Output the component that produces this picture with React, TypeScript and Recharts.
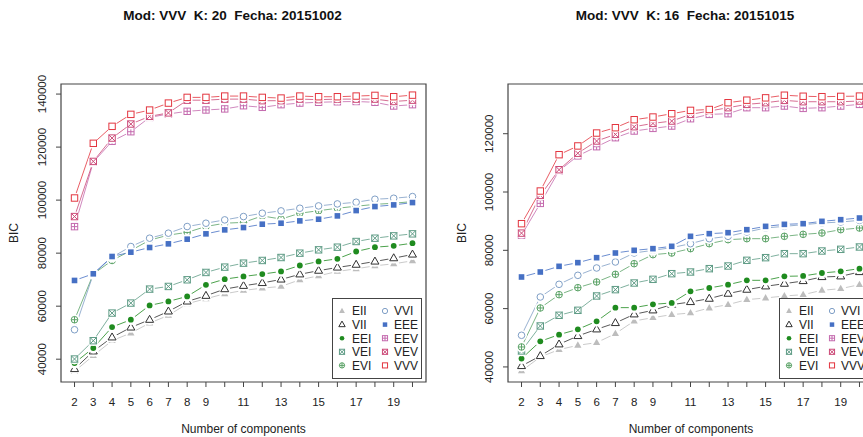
import React from 'react';
import { LineChart, Line, XAxis, YAxis, ReferenceArea, Legend } from 'recharts';

// ---------- data ----------
const components = [2, 3, 4, 5, 6, 7, 8, 9, 10, 11, 12, 13, 14, 15, 16, 17, 18, 19, 20];
const xLabelShown = [2, 3, 4, 5, 6, 7, 8, 9, 11, 13, 15, 17, 19];
const leftYTicks = [40000, 60000, 80000, 100000, 120000, 140000];
const rightYTicks = [40000, 60000, 80000, 100000, 120000];
const models = ['EII', 'VII', 'EEI', 'VEI', 'EVI', 'VVI', 'EEE', 'EEV', 'VEV', 'VVV'];
const leftTitle = 'Mod: VVV  K: 20  Fecha: 20151002';
const rightTitle = 'Mod: VVV  K: 16  Fecha: 20151015';

// left panel (20151002)
const L_EII = [35430, 41330, 46980, 49870, 53630, 56520, 60920, 62800, 64680, 65940, 66810, 67440, 69950, 71460, 73090, 74100, 75230, 75980, 77110];
const L_VII = [36310, 42970, 48240, 51980, 54890, 58030, 61790, 63930, 66440, 67690, 68760, 70080, 72020, 73400, 74600, 75660, 76860, 78110, 79500];
const L_EEI = [38570, 44220, 52130, 54890, 60290, 61790, 63680, 68070, 70200, 71210, 72090, 73090, 75350, 76860, 77860, 80620, 82260, 82760, 83760];
const L_VEI = [40070, 46980, 57400, 61170, 66440, 67440, 69950, 72720, 74730, 76230, 77240, 78360, 80000, 81250, 82250, 84390, 85640, 86520, 87280];
const L_EVI = [54890, 72090, 77240, 81000, 84900, 86800, 87850, 90040, 91290, 91600, 94050, 92850, 95060, 96000, 96940, 97700, 98400, 98830, 99450];
const L_VVI = [51120, 72090, 78490, 82500, 85640, 87530, 90040, 91290, 92550, 93800, 95060, 95940, 96940, 97820, 98570, 99200, 100330, 100710, 101340];
const L_EEE = [69700, 72210, 78740, 80370, 82130, 83510, 85270, 87280, 88780, 89660, 90920, 91290, 92170, 92800, 94050, 96060, 97570, 98200, 99080];
const L_EEV = [90000, 114300, 122200, 125800, 131200, 132500, 133500, 134000, 134400, 135600, 135000, 136000, 136600, 136900, 137100, 137200, 136900, 135500, 136000];
const L_VEV = [93800, 114600, 123400, 128700, 131600, 132900, 137700, 137700, 138100, 138100, 137500, 137500, 138100, 137900, 138100, 138100, 138100, 137200, 137700];
const L_VVV = [100800, 121430, 127830, 132350, 133970, 136600, 138750, 138750, 139250, 139250, 138750, 138500, 139250, 139000, 139000, 139250, 139500, 139000, 139600];

// right panel (20151015)
const R_EII = [38620, 43420, 45930, 47420, 48330, 51420, 55760, 56910, 57940, 58510, 60220, 61370, 63080, 63650, 64340, 64790, 66280, 66850, 68220];
const R_VII = [40330, 43760, 47760, 50620, 52900, 55080, 58050, 59420, 61370, 62280, 63420, 65140, 66510, 67650, 68560, 69480, 70850, 71080, 72560];
const R_EEI = [42850, 48790, 51080, 52900, 55650, 60340, 60340, 61480, 61940, 65940, 67080, 68220, 69710, 69710, 71080, 71200, 72220, 72790, 73710];
const R_VEI = [45480, 54050, 57710, 59420, 64340, 66510, 68790, 70050, 71990, 72560, 73710, 74620, 76570, 77480, 78850, 78850, 79770, 80340, 81140];
const R_EVI = [46850, 60220, 64790, 67190, 69140, 71770, 75420, 78510, 79080, 80570, 82280, 83650, 83990, 83990, 84800, 85480, 85940, 87080, 87650];
const R_VVI = [50850, 63990, 68340, 71420, 73940, 75990, 79080, 80000, 80910, 82280, 84000, 84800, 86280, 87650, 88220, 88800, 89370, 89710, 90280];
const R_EEE = [70850, 72560, 74510, 75770, 77480, 79080, 80000, 80570, 81370, 84800, 85710, 86050, 87080, 88220, 88910, 89140, 89940, 90510, 91080];
const R_EEV = [85200, 96100, 107300, 112400, 115540, 118630, 120920, 121830, 122630, 125140, 126630, 126860, 128920, 128920, 129490, 128690, 128920, 129490, 130060];
const R_VEV = [85900, 98850, 107650, 113300, 117490, 119770, 122400, 123540, 124340, 126630, 127770, 128920, 130060, 130630, 131430, 130970, 130970, 130970, 131200];
const R_VVV = [89140, 100340, 112800, 115800, 120230, 122060, 124800, 125720, 126860, 128000, 128300, 130630, 131500, 132300, 133200, 132850, 132700, 132800, 132900];

const leftSeries: Record<string, number[]> = {
  EII: L_EII, VII: L_VII, EEI: L_EEI, VEI: L_VEI, EVI: L_EVI,
  VVI: L_VVI, EEE: L_EEE, EEV: L_EEV, VEV: L_VEV, VVV: L_VVV,
};
const rightSeries: Record<string, number[]> = {
  EII: R_EII, VII: R_VII, EEI: R_EEI, VEI: R_VEI, EVI: R_EVI,
  VVI: R_VVI, EEE: R_EEE, EEV: R_EEV, VEV: R_VEV, VVV: R_VVV,
};

// ---------- styles ----------
const modelColor: Record<string, string> = {
  EII: '#bdbdbd', VII: '#303030', EEI: '#1f8b1f', VEI: '#5f9c86', EVI: '#5aa266',
  VVI: '#7f9fc6', EEE: '#4670c4', EEV: '#c46aae', VEV: '#cc4a78', VVV: '#e3353f',
};
const modelShape: Record<string, string> = {
  EII: 'triFilled', VII: 'triOpen', EEI: 'dotFilled', VEI: 'sqX', EVI: 'circPlus',
  VVI: 'circOpen', EEE: 'sqFilled', EEV: 'sqPlus', VEV: 'sqX', VVV: 'sqOpen',
};

const FONT = '"Liberation Sans", Arial, Helvetica, sans-serif';

function buildRows(series: Record<string, number[]>) {
  return components.map((k, i) => {
    const row: Record<string, number> = { k };
    models.forEach((m) => { row[m] = series[m][i]; });
    return row;
  });
}

function Marker({ shape, color, cx, cy, s = 1 }: any) {
  const sw = 1;
  switch (shape) {
    case 'triFilled': {
      const w = 3.6 * s, t = 4 * s, b = 2.4 * s;
      return <polygon points={`${cx},${cy - t} ${cx - w},${cy + b} ${cx + w},${cy + b}`} fill={color} />;
    }
    case 'triOpen': {
      const w = 4 * s, t = 4.4 * s, b = 2.6 * s;
      return <polygon points={`${cx},${cy - t} ${cx - w},${cy + b} ${cx + w},${cy + b}`} fill="none" stroke={color} strokeWidth={sw} />;
    }
    case 'dotFilled':
      return <circle cx={cx} cy={cy} r={2.9 * s} fill={color} />;
    case 'circOpen':
      return <circle cx={cx} cy={cy} r={3.3 * s} fill="none" stroke={color} strokeWidth={sw} />;
    case 'circPlus': {
      const r = 3.3 * s;
      return (
        <g>
          <circle cx={cx} cy={cy} r={r} fill="none" stroke={color} strokeWidth={sw} />
          <line x1={cx - r} y1={cy} x2={cx + r} y2={cy} stroke={color} strokeWidth={sw} />
          <line x1={cx} y1={cy - r} x2={cx} y2={cy + r} stroke={color} strokeWidth={sw} />
        </g>
      );
    }
    case 'sqFilled': {
      const h = 2.8 * s;
      return <rect x={cx - h} y={cy - h} width={2 * h} height={2 * h} fill={color} />;
    }
    case 'sqOpen': {
      const h = 3.2 * s;
      return <rect x={cx - h} y={cy - h} width={2 * h} height={2 * h} fill="none" stroke={color} strokeWidth={sw} />;
    }
    case 'sqX': {
      const h = 3.2 * s;
      return (
        <g>
          <rect x={cx - h} y={cy - h} width={2 * h} height={2 * h} fill="none" stroke={color} strokeWidth={sw} />
          <line x1={cx - h} y1={cy - h} x2={cx + h} y2={cy + h} stroke={color} strokeWidth={sw} />
          <line x1={cx - h} y1={cy + h} x2={cx + h} y2={cy - h} stroke={color} strokeWidth={sw} />
        </g>
      );
    }
    case 'sqPlus': {
      const h = 3.2 * s;
      return (
        <g>
          <rect x={cx - h} y={cy - h} width={2 * h} height={2 * h} fill="none" stroke={color} strokeWidth={sw} />
          <line x1={cx - h} y1={cy} x2={cx + h} y2={cy} stroke={color} strokeWidth={sw} />
          <line x1={cx} y1={cy - h} x2={cx} y2={cy + h} stroke={color} strokeWidth={sw} />
        </g>
      );
    }
    default:
      return null;
  }
}

function makeDot(model: string) {
  return (props: any) => {
    const { cx, cy, index } = props;
    if (cx == null || cy == null) return <g key={`${model}-${index}`} />;
    return (
      <g key={`${model}-${index}`}>
        <circle cx={cx} cy={cy} r={5.4} fill="#ffffff" />
        <Marker shape={modelShape[model]} color={modelColor[model]} cx={cx} cy={cy} />
      </g>
    );
  };
}

const XTick = (props: any) => {
  const { x, y, payload } = props;
  const v = payload.value;
  if (!xLabelShown.includes(v)) return <g />;
  return (
    <text x={x} y={y + 14.5} dy="0.35em" textAnchor="middle" fontSize={11.5} fill="#222" fontFamily={FONT}>
      {v}
    </text>
  );
};

const YTick = (props: any) => {
  const { x, y, payload } = props;
  const cx = x - 14.5;
  return (
    <text x={cx} y={y} dy="0.35em" textAnchor="middle" fontSize={11.5} fill="#222" fontFamily={FONT}
      transform={`rotate(-90 ${cx} ${y})`}>
      {payload.value}
    </text>
  );
};

function LegendBox() {
  const W = 90, H = 81;
  const rowY0 = 13, rowStep = 13.6;
  return (
    <svg width={W} height={H} style={{ display: 'block' }}>
      <rect x={0.5} y={0.5} width={W - 1} height={H - 1} fill="#fff" stroke="#444" strokeWidth={1} />
      {models.map((m, i) => {
        const col = i < 5 ? 0 : 1;
        const row = i % 5;
        const sx = col === 0 ? 10 : 53;
        const tx = col === 0 ? 20 : 62;
        const cy = rowY0 + row * rowStep;
        return (
          <g key={m}>
            <Marker shape={modelShape[m]} color={modelColor[m]} cx={sx} cy={cy} s={0.8} />
            <text x={tx} y={cy} dy="0.36em" fontSize={12} fill="#222" fontFamily={FONT}>{m}</text>
          </g>
        );
      })}
    </svg>
  );
}

function Panel({ series, domain, yTicks }: { series: Record<string, number[]>; domain: [number, number]; yTicks: number[] }) {
  const rows = buildRows(series);
  const xDomain: [number, number] = [1.28, 20.72];
  return (
    <LineChart width={440} height={437} data={rows} margin={{ top: 84, right: 14, bottom: 25, left: 16 }}>
      <XAxis dataKey="k" type="number" domain={xDomain} ticks={components} interval={0}
        allowDataOverflow axisLine={false} tickLine={{ stroke: '#444' }} tickSize={5} tickMargin={0}
        height={30} tick={<XTick />} />
      <YAxis type="number" domain={domain} ticks={yTicks} interval={0} allowDataOverflow
        axisLine={false} tickLine={{ stroke: '#444' }} tickSize={5} tickMargin={0} width={45}
        tick={<YTick />} />
      <ReferenceArea x1={xDomain[0]} x2={xDomain[1]} y1={domain[0]} y2={domain[1]}
        fill="none" fillOpacity={0} stroke="#444" strokeWidth={1.2} ifOverflow="visible" />
      {models.map((m) => (
        <Line key={m} dataKey={m} type="linear" stroke={modelColor[m]} strokeWidth={1} strokeOpacity={0.8}
          dot={makeDot(m)} activeDot={false} isAnimationActive={false} />
      ))}
      <Legend layout="horizontal" verticalAlign="middle" align="center"
        wrapperStyle={{ left: 332, top: 298, width: 90, height: 81 }}
        content={() => <LegendBox />} />
    </LineChart>
  );
}

export default function App() {
  const pre = { whiteSpace: 'pre' as const };
  return (
    <div style={{ position: 'absolute', left: 0, top: 0, width: 863, height: 437, overflow: 'hidden', background: '#fff', fontFamily: FONT }}>
      <div style={{ position: 'absolute', left: 0, top: 0 }}>
        <Panel series={leftSeries} domain={[31400, 143800]} yTicks={leftYTicks} />
      </div>
      <div style={{ position: 'absolute', left: 447, top: 0 }}>
        <Panel series={rightSeries} domain={[34830, 137050]} yTicks={rightYTicks} />
      </div>
      <svg width={863} height={437} style={{ position: 'absolute', left: 0, top: 0, pointerEvents: 'none' }}>
        <text x={232.5} y={15.5} dy="0.35em" textAnchor="middle" fontSize={13.5} fontWeight="bold" fill="#111" fontFamily={FONT} style={pre}>{leftTitle}</text>
        <text x={685} y={15.5} dy="0.35em" textAnchor="middle" fontSize={13.5} fontWeight="bold" fill="#111" fontFamily={FONT} style={pre}>{rightTitle}</text>
        <text x={14} y={233} dy="0.35em" textAnchor="middle" fontSize={12} fill="#222" fontFamily={FONT} transform="rotate(-90 14 233)">BIC</text>
        <text x={461.5} y={233} dy="0.35em" textAnchor="middle" fontSize={12} fill="#222" fontFamily={FONT} transform="rotate(-90 461.5 233)">BIC</text>
        <text x={243.5} y={429} dy="0.35em" textAnchor="middle" fontSize={12} fill="#222" fontFamily={FONT}>Number of components</text>
        <text x={691} y={429} dy="0.35em" textAnchor="middle" fontSize={12} fill="#222" fontFamily={FONT}>Number of components</text>
      </svg>
    </div>
  );
}
